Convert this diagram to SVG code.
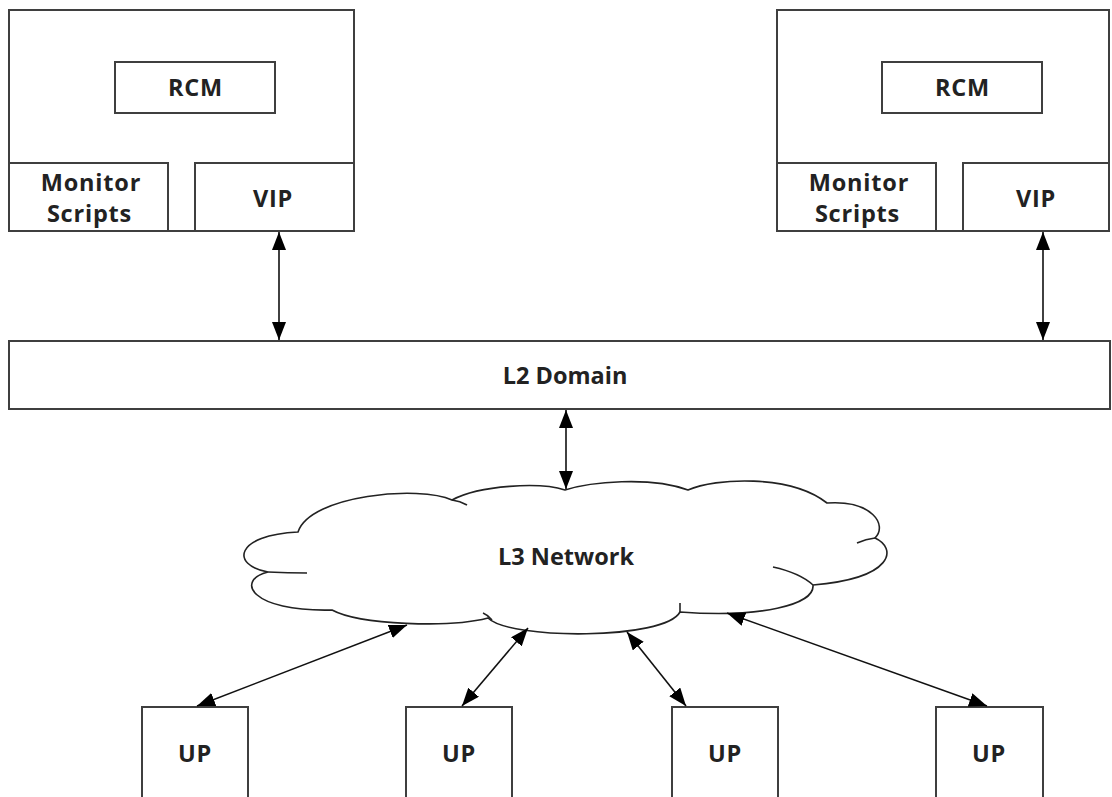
<svg xmlns="http://www.w3.org/2000/svg" width="1112" height="797" viewBox="0 0 1112 797">
  <defs>
    <style>
      .box { fill: #ffffff; stroke: #3f3f3f; stroke-width: 2; }
      .lbl { font-family: "Open Sans", "Liberation Sans", sans-serif; font-weight: 700; font-size: 23.5px; fill: #222; text-anchor: middle; }
      .sp { letter-spacing: 0.8px; }
      .conn { stroke: #111; stroke-width: 1.6; fill: none; marker-start: url(#ah); marker-end: url(#ah); }
      .cloud { fill: #ffffff; stroke: #222; stroke-width: 1.6; }
      .inner { fill: none; stroke: #222; stroke-width: 1.6; }
    </style>
    <marker id="ah" viewBox="0 0 18 14" refX="18" refY="7" markerWidth="18" markerHeight="14" markerUnits="userSpaceOnUse" orient="auto-start-reverse">
      <path d="M0,0 L18,7 L0,14 z" fill="#000"/>
    </marker>
  </defs>
  <rect width="1112" height="797" fill="#ffffff"/>

  <g id="server-left">
    <rect class="box" x="9" y="10" width="345" height="221"/>
    <rect class="box" x="115" y="62" width="160" height="51"/>
    <text class="lbl sp" x="195.5" y="96">RCM</text>
    <rect class="box" x="9" y="163" width="159" height="68"/>
    <text class="lbl sp" x="91" y="191">Monitor</text>
    <text class="lbl sp" x="89.5" y="222">Scripts</text>
    <rect class="box" x="195" y="163" width="159" height="68"/>
    <text class="lbl sp" x="273" y="207">VIP</text>
  </g>

  <g id="server-right">
    <rect class="box" x="777" y="10" width="332" height="221"/>
    <rect class="box" x="882" y="62" width="160" height="51"/>
    <text class="lbl sp" x="962.5" y="96">RCM</text>
    <rect class="box" x="777" y="163" width="159" height="68"/>
    <text class="lbl sp" x="859" y="191">Monitor</text>
    <text class="lbl sp" x="857.5" y="222">Scripts</text>
    <rect class="box" x="963" y="163" width="146" height="68"/>
    <text class="lbl sp" x="1036" y="207">VIP</text>
  </g>

  <g id="l2-domain">
    <rect class="box" x="9" y="341" width="1101" height="68"/>
    <text class="lbl" x="565" y="384">L2 Domain</text>
  </g>

  <g id="l3-network">
    <path class="cloud" d="M565,490 C590,482 650,476 688,490 C715,478 790,474 827,503 C872,500 888,525 875,538 C897,548 895,578 813,585 C815,605 760,618 680,612 C665,640 510,640 488,618 C450,628 360,625 332,610 C250,612 235,580 268,572 C230,565 235,535 298,532 C310,495 420,485 452,500 C480,485 540,482 565,490 Z"/>
    <path class="inner" d="M452,500 Q460,501 467,505"/>
    <path class="inner" d="M268,572 Q288,573 307,573"/>
    <path class="inner" d="M483,613 Q488,615 492,620"/>
    <path class="inner" d="M680,603 L680,612"/>
    <path class="inner" d="M773,567 Q800,573 813,585"/>
    <path class="inner" d="M857,543 Q866,539 875,538"/>
    <text class="lbl" x="566" y="565">L3 Network</text>
  </g>

  <g id="up-1">
    <rect class="box" x="142" y="707" width="106" height="100"/>
    <text class="lbl sp" x="195" y="762">UP</text>
  </g>
  <g id="up-2">
    <rect class="box" x="406" y="707" width="106" height="100"/>
    <text class="lbl sp" x="459" y="762">UP</text>
  </g>
  <g id="up-3">
    <rect class="box" x="672" y="707" width="106" height="100"/>
    <text class="lbl sp" x="725" y="762">UP</text>
  </g>
  <g id="up-4">
    <rect class="box" x="936" y="707" width="107" height="100"/>
    <text class="lbl sp" x="989" y="762">UP</text>
  </g>

  <g id="connectors">
    <line class="conn" x1="279" y1="232" x2="279" y2="340"/>
    <line class="conn" x1="1043" y1="232" x2="1043" y2="340"/>
    <line class="conn" x1="566" y1="410" x2="566" y2="489"/>
    <line class="conn" x1="197" y1="706" x2="407" y2="625"/>
    <line class="conn" x1="462" y1="706" x2="528" y2="628"/>
    <line class="conn" x1="686" y1="706" x2="627" y2="632"/>
    <line class="conn" x1="987" y1="706" x2="727" y2="613"/>
  </g>
</svg>
